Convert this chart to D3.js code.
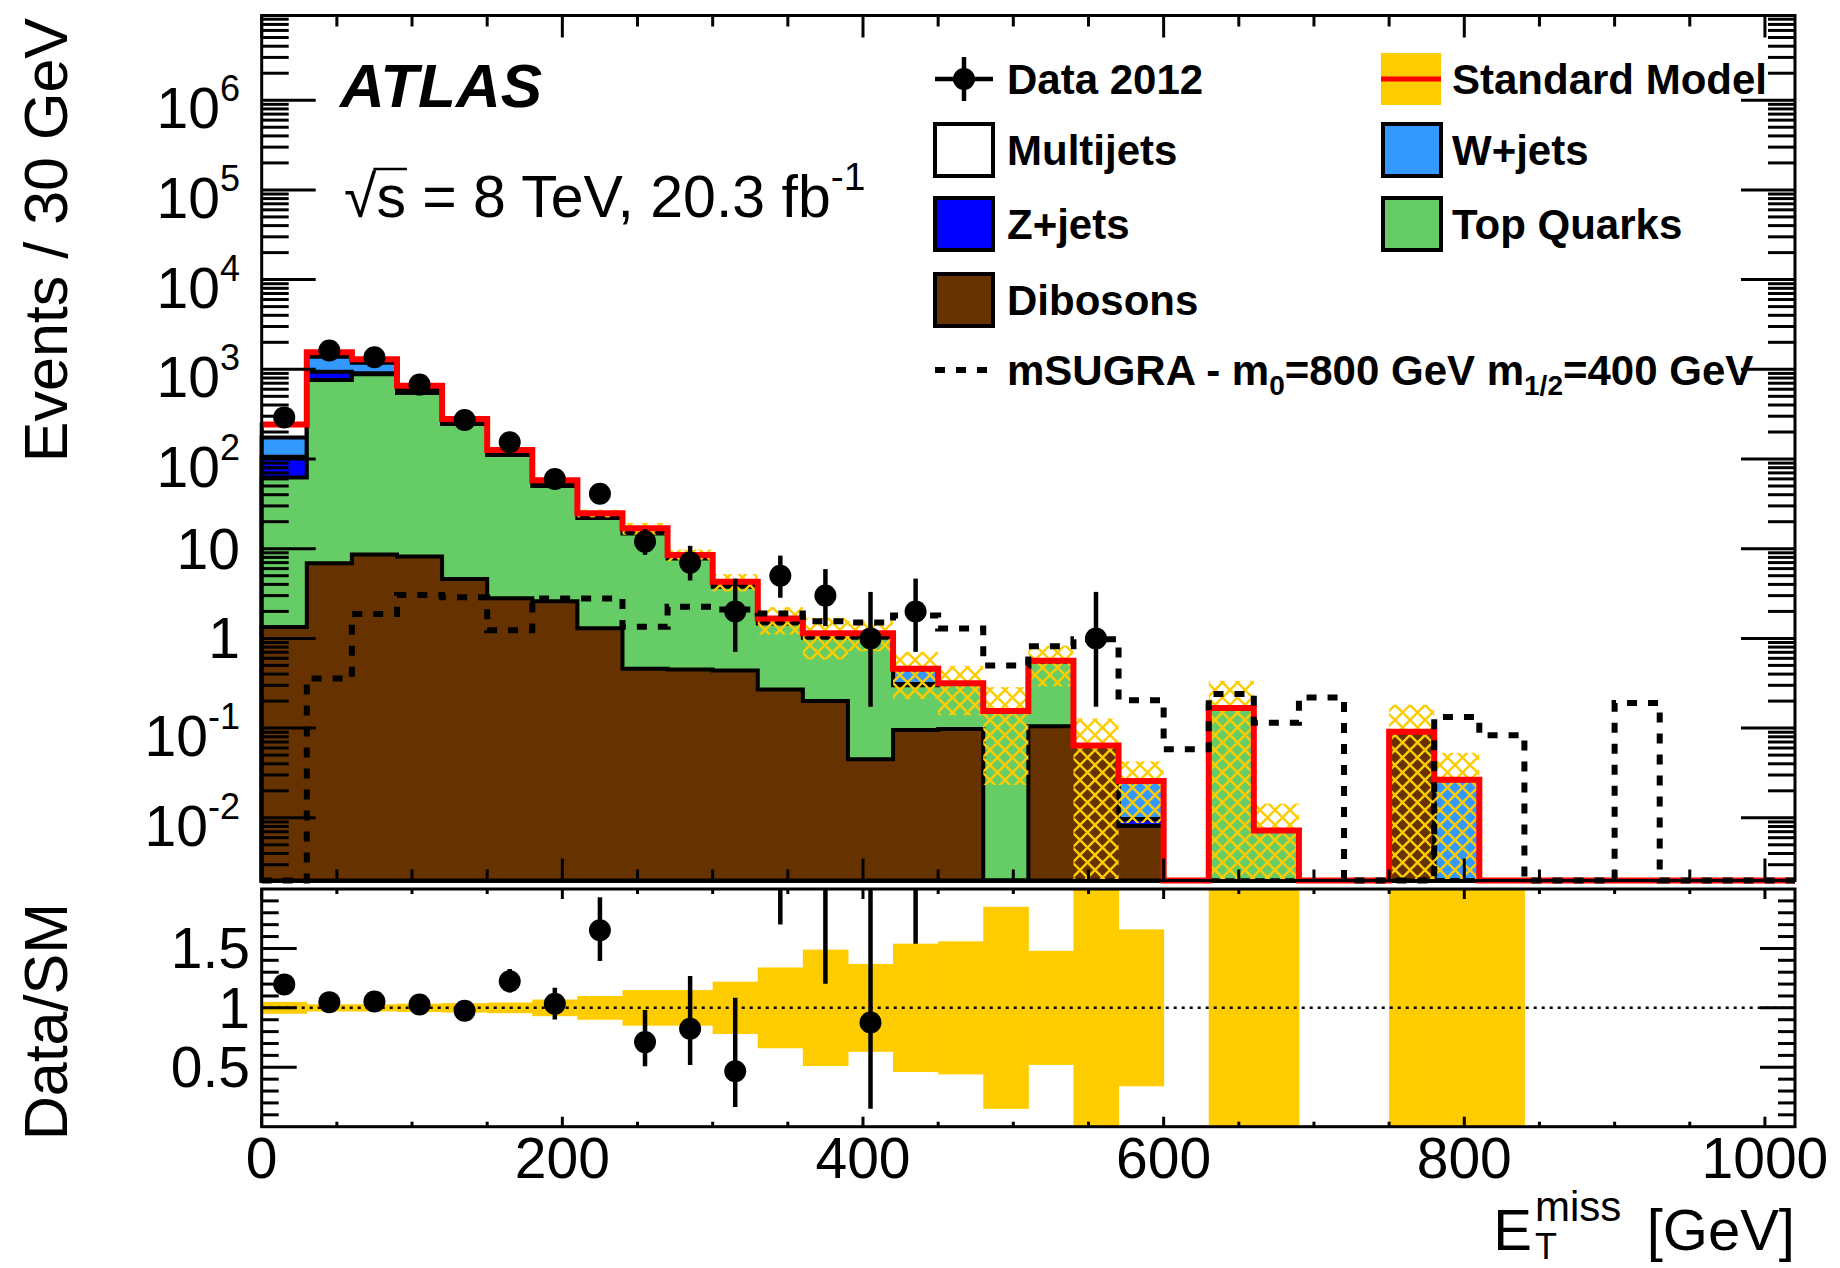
<!DOCTYPE html>
<html><head><meta charset="utf-8">
<script src="https://cdn.jsdelivr.net/npm/d3@7"></script>
<style>body{margin:0;background:#fff}svg{display:block}text{font-family:"Liberation Sans",Arial,Helvetica,sans-serif;fill:#000}</style>
</head><body><svg id="c" width="1840" height="1268"></svg>
<script>
// ---------------- DATA ----------------
const binLow = [0,30,60,90,120,150,180,210,240,270,300,330,360,390,420,450,480,510,540,570,600,630,660,690,720,750,780,810,840,870,900,930,960,990];
const binWidth = 30;
const dibosons  = [1.34,6.9,8.6,8.2,4.6,2.8,2.6,1.3,0.46,0.45,0.44,0.27,0.2,0.045,0.095,0.098,0,0.105,0.064,0.0081,0,0,0,0,0,0.091,0,0,0,0,0,0,0,0];
const topQuarks = [60.7,753,871,537,241,108,47.4,20.7,14.3,7.35,3.33,1.2,0.82,0.975,0.205,0.218,0.155,0.445,0,0,0,0.168,0.0072,0,0,0,0,0,0,0,0,0,0,0];
const zJets     = [44,180,22,15,4,2,1,0.5,0.2,0.1,0.03,0.03,0.02,0.02,0.01,0,0,0,0,0.0016,0,0,0,0,0,0,0,0,0,0,0,0,0,0];
const wJets     = [68,440,280,31,12,5,3,1,0.8,0.3,0.2,0.1,0.06,0.06,0.14,0,0,0,0,0.016,0,0,0,0,0,0,0.0265,0,0,0,0,0,0,0];
const multijets = [69,166,110,65,17,8,4,1.3,1.1,0.3,0.28,0.07,0.04,0.04,0.01,0,0,0.012,0,0,0,0,0,0,0,0,0,0,0,0,0,0,0,0];
const smRelUnc  = [0.05,0.03,0.03,0.035,0.04,0.045,0.07,0.10,0.15,0.15,0.22,0.34,0.49,0.37,0.54,0.56,0.85,0.48,1.0,0.66,0,1.0,1.0,0,0,1.0,1.0,1.0,0,0,0,0,0,0];
const msugra    = [0,0.358,1.87,3.04,2.87,1.23,2.79,2.79,1.35,2.25,2.1,1.9,1.55,1.5,1.8,1.29,0.5,0.82,0.98,0.205,0.058,0.24,0.115,0.22,0,0,0.133,0.083,0,0,0.19,0,0,0];
const data      = [291,1620,1361,675,272,154,60,41,12,7,2,5,3,1,2,0,0,0,1,0,0,0,0,0,0,0,0,0,0,0,0,0,0,0];
const dataLow   = [274,1580,1324,649,256,142,52.3,34.6,8.56,4.42,0.708,2.84,1.37,0.173,0.708,0,0,0,0.173,0,0,0,0,0,0,0,0,0,0,0,0,0,0,0];
const dataHigh  = [308,1660,1398,701,289,167,67.8,47.9,16.55,10.77,4.64,8.38,5.92,3.30,4.64,0,0,0,3.30,0,0,0,0,0,0,0,0,0,0,0,0,0,0,0];
const xTickLabels = ["0","200","400","600","800","1000"];
const yTickLabels = ["10^-2","10^-1","1","10","10^2","10^3","10^4","10^5","10^6"];
const ratioTickLabels = ["0.5","1","1.5"];

// ---------------- SETUP ----------------
const svg = d3.select("#c");
const X0 = 261.7, X1 = 1795;
const ymin = 0.002;
const x = d3.scaleLinear().domain([0,1020]).range([X0, X1]);
const y = d3.scaleLog().domain([ymin, 8.8e6]).range([880.5, 15.5]);
const yr = d3.scaleLinear().domain([0,2]).range([1126.7, 889]);
const YT = y.range()[1], YB = y.range()[0], RT = yr.range()[1], RB = yr.range()[0];
const C = {green:"#66CC66", lblue:"#3399FF", dblue:"#0000FF", brown:"#663300", gold:"#FFCC00", red:"#FF0000"};
const n = binLow.length;
const fl = v => Math.max(v, ymin);

const defs = svg.append("defs");
const pat = defs.append("pattern").attr("id","hatch").attr("patternUnits","userSpaceOnUse")
  .attr("width",15).attr("height",15);
pat.append("path").attr("d","M0,0L15,15M15,0L0,15M-2,13L2,17M13,-2L17,2M-2,2L2,-2M13,17L17,13")
  .attr("stroke",C.gold).attr("stroke-width",2.4).attr("fill","none");
defs.append("clipPath").attr("id","clipR").append("rect")
  .attr("x",X0).attr("y",RT).attr("width",X1-X0).attr("height",RB-RT);

// cumulative stack
const layers = [dibosons, topQuarks, zJets, wJets, multijets];
const cum = [];
let run = new Array(n).fill(0);
layers.forEach(l => { run = run.map((r,i)=>r+l[i]); cum.push(run.slice()); });
const total = cum[cum.length-1];
const fills = [C.brown, C.green, C.dblue, C.lblue, "#FFFFFF"];

function stepD(vals, closed){
  let d = "";
  for(let i=0;i<n;i++){
    const yy = y(fl(vals[i]));
    d += (i===0? (closed? `M${x(0)},${YB}L${x(0)},${yy}` : `M${x(0)},${yy}`) : `L${x(binLow[i])},${yy}`);
    d += `L${x(binLow[i]+binWidth)},${yy}`;
  }
  if(closed) d += `L${x(1020)},${YB}Z`;
  return d;
}

const gU = svg.append("g");
for(let k=cum.length-1;k>=0;k--){
  gU.append("path").attr("d",stepD(cum[k],true)).attr("fill",fills[k])
    .attr("stroke","#000").attr("stroke-width",4).attr("stroke-linejoin","miter");
}
total.forEach((t,i)=>{
  if(t<=0 || smRelUnc[i]<=0) return;
  const hi = t*(1+smRelUnc[i]), lo = fl(t*(1-smRelUnc[i]));
  gU.append("rect").attr("x",x(binLow[i])).attr("width",x(binLow[i]+binWidth)-x(binLow[i]))
    .attr("y",y(hi)).attr("height",y(lo)-y(hi)).attr("fill","url(#hatch)");
});
gU.append("path").attr("d",stepD(total,false)).attr("fill","none").attr("stroke",C.red).attr("stroke-width",6);
gU.append("path").attr("d",stepD(msugra,false)).attr("fill","none").attr("stroke","#000")
  .attr("stroke-width",6).attr("stroke-dasharray","10,11");
data.forEach((d,i)=>{
  if(d<=0) return;
  const cx = x(binLow[i]+binWidth/2);
  gU.append("line").attr("x1",cx).attr("x2",cx).attr("y1",y(dataLow[i])).attr("y2",y(dataHigh[i]))
    .attr("stroke","#000").attr("stroke-width",4.5);
  gU.append("circle").attr("cx",cx).attr("cy",y(d)).attr("r",11).attr("fill","#000");
});

// ---------------- RATIO PANEL ----------------
const gR = svg.append("g").attr("clip-path","url(#clipR)");
smRelUnc.forEach((u,i)=>{
  if(u<=0) return;
  const lo = Math.max(0,1-u), hi = Math.min(2,1+u);
  gR.append("rect").attr("x",x(binLow[i])).attr("width",x(binLow[i]+binWidth)-x(binLow[i])+0.5)
    .attr("y",yr(hi)).attr("height",yr(lo)-yr(hi)).attr("fill",C.gold);
});
gR.append("line").attr("x1",X0).attr("x2",X1).attr("y1",yr(1)).attr("y2",yr(1))
  .attr("stroke","#000").attr("stroke-width",2.5).attr("stroke-dasharray","3,5");
data.forEach((d,i)=>{
  if(d<=0 || total[i]<=0) return;
  const cx = x(binLow[i]+binWidth/2), t = total[i];
  gR.append("line").attr("x1",cx).attr("x2",cx).attr("y1",yr(dataLow[i]/t)).attr("y2",yr(Math.min(dataHigh[i]/t,3)))
    .attr("stroke","#000").attr("stroke-width",4.5);
  gR.append("circle").attr("cx",cx).attr("cy",yr(d/t)).attr("r",11).attr("fill","#000");
});

// ---------------- AXES / FRAMES ----------------
const gA = svg.append("g").attr("stroke","#000").attr("fill","none");
function tick(x1,y1,x2,y2,w){ gA.append("line").attr("x1",x1).attr("y1",y1).attr("x2",x2).attr("y2",y2).attr("stroke-width",w||3); }
for(let e=-3;e<=7;e++){
  for(let m=1;m<=9;m++){
    const v = m*Math.pow(10,e);
    if(v<ymin*1.0001 || v>y.domain()[1]) continue;
    const L = m===1?54:27, yy = y(v);
    tick(X0,yy,X0+L,yy); tick(X1-L,yy,X1,yy);
  }
}
for(let g=0; g<=1000; g+=50){
  const major = g%200===0, xx = x(g);
  const Lu = major?22:11, Lr = major?10:5;
  tick(xx,YB,xx,YB-Lu); tick(xx,YT,xx,YT+Lu);
  tick(xx,RB,xx,RB-Lr); tick(xx,RT,xx,RT+Lr);
}
for(let k=1;k<=19;k++){
  const v=k/10, major = k%5===0, L = major?35:17;
  tick(X0,yr(v),X0+L,yr(v)); tick(X1-L,yr(v),X1,yr(v));
}
gA.append("rect").attr("x",X0).attr("y",YT).attr("width",X1-X0).attr("height",YB-YT).attr("stroke-width",3);
gA.append("rect").attr("x",X0).attr("y",RT).attr("width",X1-X0).attr("height",RB-RT).attr("stroke-width",3);

// tick labels
const gT = svg.append("g");
yTickLabels.forEach((lab,i)=>{
  const v = Math.pow(10,i-2), yy = y(v);
  const parts = lab.split("^");
  const t = gT.append("text").attr("x",240).attr("text-anchor","end").attr("font-size",57);
  if(parts.length>1){
    t.attr("y",yy+28).text(parts[0]);
    t.append("tspan").attr("font-size",36).attr("dy",-27).text(parts[1]);
  } else t.attr("y",yy+20).text(lab);
});
ratioTickLabels.forEach(lab=>{
  gT.append("text").attr("x",250).attr("y",yr(+lab)+20).attr("text-anchor","end").attr("font-size",57).text(lab);
});
xTickLabels.forEach(lab=>{
  gT.append("text").attr("x",x(+lab)).attr("y",1178).attr("text-anchor","middle").attr("font-size",57).text(lab);
});
// axis titles
gT.append("text").attr("transform","translate(67,18) rotate(-90)").attr("text-anchor","end").attr("font-size",61).text("Events / 30 GeV");
gT.append("text").attr("transform","translate(67,903) rotate(-90)").attr("text-anchor","end").attr("font-size",61).text("Data/SM");
gT.append("text").attr("x",1795).attr("y",1250).attr("text-anchor","end").attr("font-size",58).text("[GeV]");
gT.append("text").attr("x",1532).attr("y",1250).attr("text-anchor","end").attr("font-size",58).text("E");
gT.append("text").attr("x",1535).attr("y",1221).attr("font-size",42).text("miss");
gT.append("text").attr("x",1535).attr("y",1259).attr("font-size",36).text("T");

// ATLAS labels
gT.append("text").attr("x",340).attr("y",107).attr("font-size",62).attr("font-weight","bold").attr("font-style","italic").text("ATLAS");
const sq = gT.append("text").attr("x",344).attr("y",217).attr("font-size",59);
sq.append("tspan").text("\u221As = 8 TeV, 20.3 fb");
sq.append("tspan").attr("font-size",39).attr("dy",-27).text("-1");
try{
  const node = sq.node();
  const wr = node.getSubStringLength(0,1), ws = node.getSubStringLength(1,1);
  gA.append("line").attr("x1",344+wr-3).attr("x2",344+wr+ws+1).attr("y1",169).attr("y2",169).attr("stroke-width",2.5);
}catch(e){}

// ---------------- LEGEND ----------------
const gL = svg.append("g");
const rows = [79,150,224,300,370];
const colL = {sx:933, tx:1007}, colR = {sx:1381, tx:1452};
function legText(col,row,str){ return gL.append("text").attr("x",col.tx).attr("y",rows[row]+15).attr("font-size",42).attr("font-weight","bold").text(str); }
function legBox(col,row,fill){
  gL.append("rect").attr("x",col.sx+2).attr("y",rows[row]-26).attr("width",58).attr("height",52)
    .attr("fill",fill).attr("stroke","#000").attr("stroke-width",4);
}
gL.append("line").attr("x1",935).attr("x2",993).attr("y1",rows[0]).attr("y2",rows[0]).attr("stroke","#000").attr("stroke-width",4.5);
gL.append("line").attr("x1",964).attr("x2",964).attr("y1",rows[0]-22).attr("y2",rows[0]+22).attr("stroke","#000").attr("stroke-width",4.5);
gL.append("circle").attr("cx",964).attr("cy",rows[0]).attr("r",11).attr("fill","#000");
legText(colL,0,"Data 2012");
gL.append("rect").attr("x",1381).attr("y",rows[0]-26).attr("width",60).attr("height",52).attr("fill",C.gold);
gL.append("line").attr("x1",1381).attr("x2",1441).attr("y1",rows[0]).attr("y2",rows[0]).attr("stroke",C.red).attr("stroke-width",5);
legText(colR,0,"Standard Model");
legBox(colL,1,"#FFFFFF"); legText(colL,1,"Multijets");
legBox(colR,1,C.lblue); legText(colR,1,"W+jets");
legBox(colL,2,C.dblue); legText(colL,2,"Z+jets");
legBox(colR,2,C.green); legText(colR,2,"Top Quarks");
legBox(colL,3,C.brown); legText(colL,3,"Dibosons");
gL.append("line").attr("x1",935).attr("x2",990).attr("y1",rows[4]).attr("y2",rows[4]).attr("stroke","#000")
  .attr("stroke-width",6).attr("stroke-dasharray","10,11");
const ms = legText(colL,4,"mSUGRA - m");
ms.append("tspan").attr("font-size",28).attr("dy",10).text("0");
ms.append("tspan").attr("dy",-10).text("=800 GeV m");
ms.append("tspan").attr("font-size",28).attr("dy",10).text("1/2");
ms.append("tspan").attr("dy",-10).text("=400 GeV");
</script></body></html>
